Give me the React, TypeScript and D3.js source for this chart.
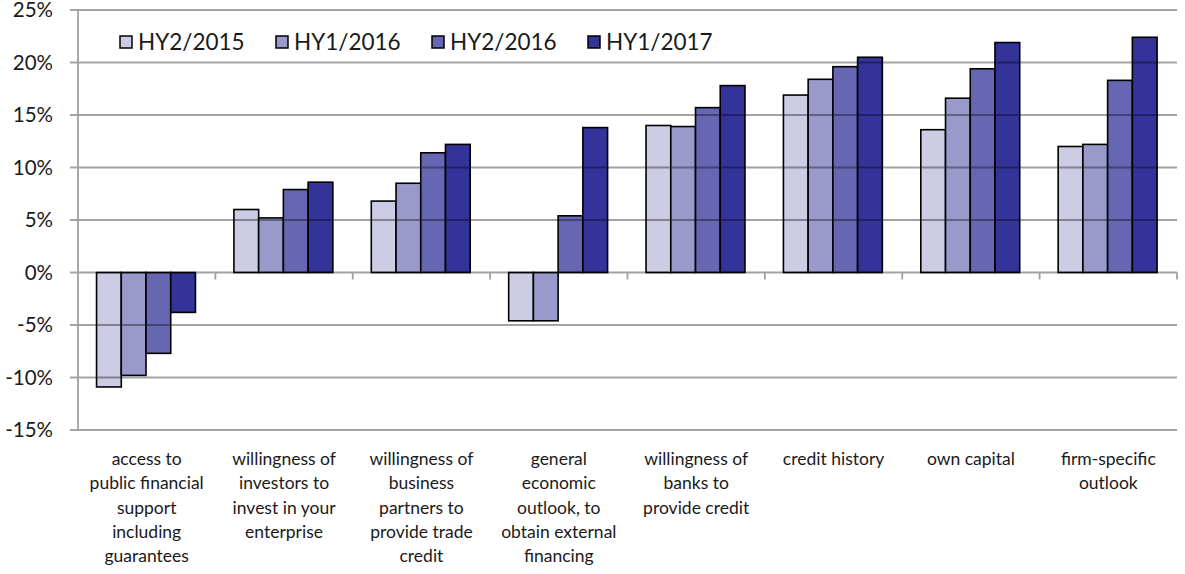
import React, { useEffect, useRef } from 'react';
import * as d3 from 'd3';

// categories, as they are wrapped under the axis
const categories = [
  ['access to', 'public financial', 'support', 'including', 'guarantees'],
  ['willingness of', 'investors to', 'invest in your', 'enterprise'],
  ['willingness of', 'business', 'partners to', 'provide trade', 'credit'],
  ['general', 'economic', 'outlook, to', 'obtain external', 'financing'],
  ['willingness of', 'banks to', 'provide credit'],
  ['credit history'],
  ['own capital'],
  ['firm-specific', 'outlook'],
];

const seriesNames = ['HY2/2015', 'HY1/2016', 'HY2/2016', 'HY1/2017'];
const seriesColors = ['#ccccE5', '#9999cc', '#6666b2', '#333399'];

const hy2_2015 = [-10.9, 6.0, 6.8, -4.6, 14.0, 16.9, 13.6, 12.0];
const hy1_2016 = [-9.8, 5.2, 8.5, -4.6, 13.9, 18.4, 16.6, 12.2];
const hy2_2016 = [-7.7, 7.9, 11.4, 5.4, 15.7, 19.6, 19.4, 18.3];
const hy1_2017 = [-3.8, 8.6, 12.2, 13.8, 17.8, 20.5, 21.9, 22.4];

const yTicks = [-15, -10, -5, 0, 5, 10, 15, 20, 25];

const FONT = 'Lato, "DejaVu Sans", sans-serif';

const App = () => {
  const ref = useRef<SVGSVGElement>(null);

  useEffect(() => {
    const svg = d3.select(ref.current);
    svg.selectAll('*').remove();

    const left = 78, right = 1177, top = 10, bottom = 430;
    const series = [hy2_2015, hy1_2016, hy2_2016, hy1_2017];
    const idx = categories.map((_, i) => i);

    const x = d3.scaleBand<number>().domain(idx).range([left, right]).padding(0);
    const bw = x.bandwidth();
    const x1 = d3.scaleBand<number>()
      .domain(series.map((_, i) => i))
      .range([bw * 0.135, bw * 0.855])
      .padding(0);
    const y = d3.scaleLinear().domain([-15, 25]).range([bottom, top]);

    // bars
    series.forEach((vals, s) => {
      svg.append('g')
        .selectAll('rect')
        .data(vals)
        .enter().append('rect')
        .attr('x', (_, i) => (x(i) as number) + (x1(s) as number))
        .attr('y', d => y(Math.max(0, d)))
        .attr('width', x1.bandwidth())
        .attr('height', d => Math.abs(y(d) - y(0)))
        .attr('fill', seriesColors[s])
        .attr('stroke', '#000')
        .attr('stroke-width', 1.6);
    });

    // gridlines (drawn over the bars, like the original)
    svg.append('g')
      .selectAll('line')
      .data(yTicks)
      .enter().append('line')
      .attr('x1', left - 8)
      .attr('x2', right)
      .attr('y1', d => y(d))
      .attr('y2', d => y(d))
      .attr('stroke', 'rgba(0,0,0,0.36)')
      .attr('stroke-width', 1.8);

    // y axis line
    svg.append('line')
      .attr('x1', left).attr('x2', left)
      .attr('y1', top).attr('y2', bottom)
      .attr('stroke', '#a0a0a0')
      .attr('stroke-width', 1.8);

    // category ticks under zero line
    svg.append('g')
      .selectAll('line')
      .data(d3.range(1, categories.length + 1))
      .enter().append('line')
      .attr('x1', i => left + i * bw)
      .attr('x2', i => left + i * bw)
      .attr('y1', y(0))
      .attr('y2', y(0) + 7)
      .attr('stroke', '#a0a0a0')
      .attr('stroke-width', 1.8);

    // y tick labels
    svg.append('g')
      .selectAll('text')
      .data(yTicks)
      .enter().append('text')
      .attr('x', left - 25)
      .attr('y', d => y(d))
      .attr('dy', '0.36em')
      .attr('text-anchor', 'end')
      .attr('font-family', FONT)
      .attr('font-size', 20.5)
      .attr('fill', '#1a1a1a')
      .text(d => `${d}%`);

    // category labels
    const cat = svg.append('g')
      .selectAll('text')
      .data(categories)
      .enter().append('text')
      .attr('x', (_, i) => (x(i) as number) + bw / 2)
      .attr('y', 465)
      .attr('text-anchor', 'middle')
      .attr('font-family', FONT)
      .attr('font-size', 17.5)
      .attr('fill', '#1a1a1a');
    cat.selectAll('tspan')
      .data(d => d)
      .enter().append('tspan')
      .attr('x', function () {
        return (this.parentNode as SVGTextElement).getAttribute('x');
      })
      .attr('dy', (_, j) => (j === 0 ? 0 : 24.3))
      .text(d => d);

    // legend
    const legendX = [120, 276, 432, 588];
    const lg = svg.append('g')
      .selectAll('g')
      .data(seriesNames)
      .enter().append('g')
      .attr('transform', (_, i) => `translate(${legendX[i]},42)`);
    lg.append('rect')
      .attr('x', 0).attr('y', -6)
      .attr('width', 12).attr('height', 12)
      .attr('fill', (_, i) => seriesColors[i])
      .attr('stroke', '#000')
      .attr('stroke-width', 1.5);
    lg.append('text')
      .attr('x', 18)
      .attr('y', 0)
      .attr('dy', '0.36em')
      .attr('font-family', FONT)
      .attr('font-size', 22.5)
      .attr('fill', '#1a1a1a')
      .text(d => d);
  }, []);

  return (
    <svg
      ref={ref}
      width={1185}
      height={574}
      style={{ position: 'absolute', left: 0, top: 0, background: '#fff' }}
    />
  );
};

export default App;
